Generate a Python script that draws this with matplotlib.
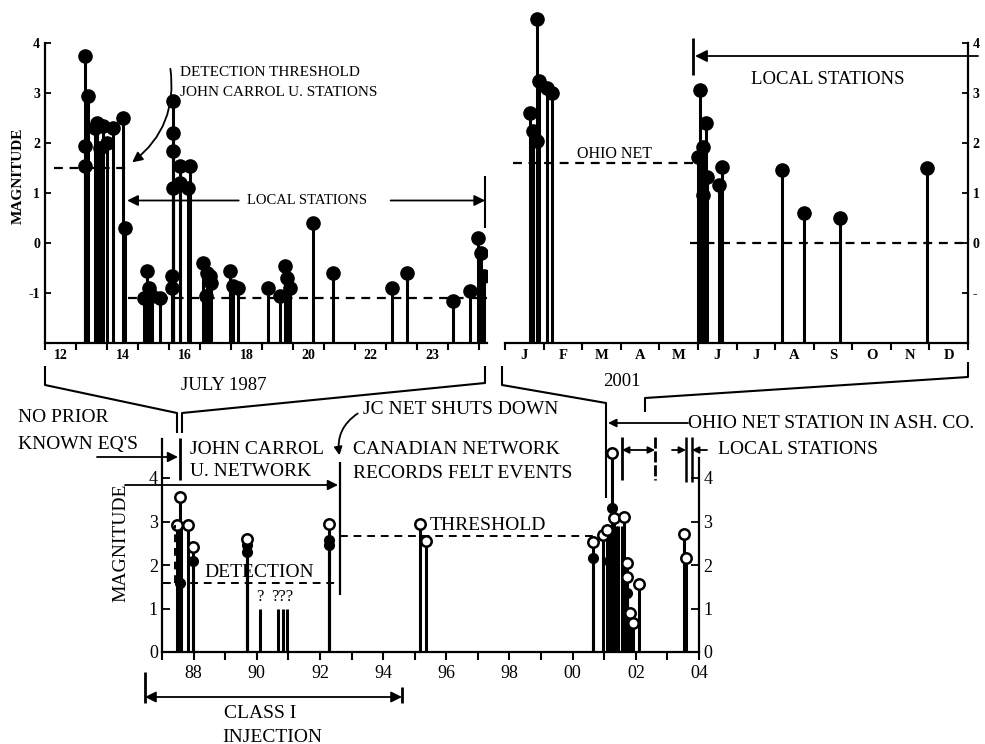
import matplotlib
matplotlib.use("Agg")
import matplotlib.pyplot as plt
from matplotlib.patches import FancyArrowPatch

plt.rcParams['font.family'] = ['Liberation Serif', 'DejaVu Serif']

# July 1987 sequence: day of month, magnitude
july_day = [13.29, 13.29, 13.29, 13.39, 13.6, 13.68, 13.77, 13.87, 14.0, 14.19, 14.52, 14.58,
            15.2, 15.3, 15.35, 15.45, 15.7,
            16.13, 16.13, 16.13, 16.13, 16.1, 16.1,
            16.35, 16.35, 16.62, 16.68,
            17.1, 17.2, 17.23, 17.32, 17.36,
            17.97, 18.06, 18.23,
            19.19, 19.58, 19.74, 19.8, 19.9,
            20.65, 21.29, 23.19, 23.68,
            25.16, 25.71, 25.97, 26.06, 26.16]
july_mag = [3.75, 1.95, 1.55, 2.95, 2.3, 2.4, 1.9, 2.35, 2.0, 2.3, 2.5, 0.3,
            -1.1, -0.55, -0.9, -1.05, -1.1,
            2.85, 2.2, 1.85, 1.1, -0.65, -0.9,
            1.55, 1.2, 1.1, 1.55,
            -0.4, -1.05, -0.6, -0.65, -0.8,
            -0.55, -0.85, -0.9,
            -0.9, -1.05, -0.45, -0.7, -0.9,
            0.4, -0.6, -0.9, -0.6,
            -1.15, -0.95, 0.1, -0.2, -0.65]
july_label_pos = [12.5, 14.5, 16.5, 18.5, 20.5, 22.5, 24.5]
july_labels = ['12', '14', '16', '18', '20', '22', '23']
jcu_threshold = 1.5
july_local_threshold = -1.1

# 2001 sequence: months from 1 January, magnitude
m2001 = [0.65, 0.73, 0.83, 0.83, 0.88, 1.09, 1.22,
         5.0, 5.05, 5.13, 5.13, 5.21, 5.23, 5.54, 5.62,
         7.18, 7.75, 8.68, 10.93]
mag2001 = [2.6, 2.25, 2.05, 4.48, 3.25, 3.1, 3.0,
           1.73, 3.07, 1.93, 0.97, 2.4, 1.33, 1.17, 1.53,
           1.47, 0.6, 0.5, 1.5]
month_labels = ['J', 'F', 'M', 'A', 'M', 'J', 'J', 'A', 'S', 'O', 'N', 'D']
ohio_threshold = 1.6
local_2001_threshold = 0.0

# 1987-2004 history
open_year = [1987.56, 1987.49, 1987.81, 1987.97, 1989.68, 1992.3, 1995.18, 1995.37,
             2000.63, 2000.97, 2001.1, 2001.23, 2001.32, 2001.64, 2001.73, 2001.73,
             2001.83, 2001.92, 2002.11, 2003.54, 2003.6]
open_mag = [3.56, 2.92, 2.92, 2.41, 2.6, 2.94, 2.94, 2.55,
            2.53, 2.69, 2.8, 4.57, 3.08, 3.1, 2.04, 1.73,
            0.9, 0.67, 1.56, 2.71, 2.16]
full_year = [1987.56, 1987.97, 1989.68, 1989.68, 1992.3, 1992.3, 2000.63, 2001.23, 2001.16, 2001.73]
full_mag = [1.59, 2.1, 2.45, 2.3, 2.57, 2.45, 2.16, 3.3, 2.1, 1.35]
bare_year = [1987.6, 2001.16, 2001.38, 2001.45, 2001.55]
bare_mag = [2.9, 2.7, 2.9, 2.9, 2.9]
unknown_year = [1990.09, 1990.66, 1990.82, 1990.97]
unknown_mag = [1.0, 1.0, 1.0, 1.0]
detection_mag = 1.59
felt_mag = 2.67
jc_shutdown = 1992.62
cn_end = 2000.63

fig = plt.figure(figsize=(9.85, 7.44), dpi=100)


def px_axes(l, t, r, b):
    return fig.add_axes([l / 985, 1 - b / 744, (r - l) / 985, (b - t) / 744])


dash = (0, (4, 3))

# ---- top left: July 1987
ax1 = px_axes(45, 8, 487, 343)
ax1.vlines(july_day, -2, july_mag, color='k', lw=2.2)
ax1.plot(july_day, july_mag, 'o', color='k', ms=9.5)
ax1.set_xlim(12, 26.26)
ax1.set_ylim(-2, 4.7)
ax1.spines['top'].set_visible(False)
ax1.spines['right'].set_visible(False)
ax1.spines['left'].set_bounds(-2, 4)
ax1.set_yticks([4, 3, 2, 1, 0, -1])
ax1.set_yticklabels(['4', '3', '2', '1', '0', '-1'], fontsize=10, fontweight='bold')
ax1.tick_params(axis='y', direction='in', length=4, width=1.3)
ax1.set_xticks(range(12, 27))
ax1.set_xticklabels([])
ax1.set_xticks(july_label_pos, minor=True)
ax1.set_xticklabels(july_labels, minor=True, fontsize=10, fontweight='bold')
ax1.tick_params(axis='x', which='major', direction='out', length=5, width=1.5)
ax1.tick_params(axis='x', which='minor', length=0, pad=4)
ax1.set_ylabel('MAGNITUDE', fontsize=11, fontweight='bold', labelpad=3)
ax1.hlines(jcu_threshold, 12.3, 14.6, colors='k', linestyles=dash, lw=1.6)
ax1.hlines(july_local_threshold, 14.68, 26.26, colors='k', linestyles=dash, lw=1.6)
ax1.text(20.45, 0.85, 'LOCAL STATIONS', ha='center', va='center', fontsize=10.5)
ax1.annotate('', xy=(14.65, 0.85), xytext=(18.25, 0.85),
             arrowprops=dict(arrowstyle='-|>', color='k', lw=1.3, mutation_scale=16, shrinkA=0, shrinkB=0))
ax1.annotate('', xy=(26.2, 0.85), xytext=(23.15, 0.85),
             arrowprops=dict(arrowstyle='-|>', color='k', lw=1.3, mutation_scale=16, shrinkA=0, shrinkB=0))
ax1.vlines(26.2, 0.3, 1.35, colors='k', lw=1.5)
for s in ax1.spines.values():
    s.set_linewidth(1.6)

# ---- top right: 2001
ax2 = px_axes(505, 8, 968, 343)
ax2.vlines(m2001, -2, mag2001, color='k', lw=2.2)
ax2.plot(m2001, mag2001, 'o', color='k', ms=9.5)
ax2.set_xlim(0, 12)
ax2.set_ylim(-2, 4.7)
ax2.spines['top'].set_visible(False)
ax2.spines['left'].set_visible(False)
ax2.spines['right'].set_bounds(-2, 4)
ax2.yaxis.tick_right()
ax2.set_yticks([4, 3, 2, 1, 0, -1])
ax2.set_yticklabels(['4', '3', '2', '1', '0', '-'], fontsize=10, fontweight='bold')
ax2.tick_params(axis='y', direction='in', length=4, width=1.3)
ax2.set_xticks(range(0, 13))
ax2.set_xticklabels([])
ax2.set_xticks([m + 0.5 for m in range(12)], minor=True)
ax2.set_xticklabels(month_labels, minor=True, fontsize=10.5, fontweight='bold')
ax2.tick_params(axis='x', which='major', direction='out', length=5, width=1.5)
ax2.tick_params(axis='x', which='minor', length=0, pad=4)
ax2.hlines(ohio_threshold, 0.2, 4.87, colors='k', linestyles=dash, lw=1.6)
ax2.hlines(local_2001_threshold, 4.8, 12, colors='k', linestyles=dash, lw=1.6)
ax2.text(2.85, 1.62, 'OHIO NET', ha='center', va='bottom', fontsize=11.5)
for s in ax2.spines.values():
    s.set_linewidth(1.6)

# ---- bottom: 1987-2004
ax3 = px_axes(162, 434.5, 699, 652)
ax3.vlines(open_year + full_year + bare_year, 0, open_mag + full_mag + bare_mag, color='k', lw=2.2)
ax3.vlines(unknown_year, 0, unknown_mag, color='k', lw=2.2)
ax3.plot(full_year, full_mag, 'o', color='k', ms=7)
ax3.plot(open_year, open_mag, 'o', mfc='white', mec='k', mew=1.8, ms=7.5)
ax3.text(unknown_year[0], 1.08, '?', ha='center', va='bottom', fontsize=12)
ax3.text(unknown_year[2], 1.08, '???', ha='center', va='bottom', fontsize=12)
ax3.set_xlim(1987, 2004)
ax3.set_ylim(0, 5.0)
ax3.spines['top'].set_visible(False)
ax3.spines['left'].set_bounds(0, 4.9)
ax3.spines['right'].set_bounds(0, 4.45)
ax3.set_yticks([0, 1, 2, 3, 4])
ax3.set_yticklabels(['0', '1', '2', '3', '4'], fontsize=13)
ax3.tick_params(axis='y', which='both', direction='in', length=6, width=1.3, left=True, right=True,
                labelleft=True, labelright=True, pad=3)
ax3.set_xticks(range(1987, 2005))
ax3.set_xticklabels([('%02d' % (y % 100)) if y % 2 == 0 else '' for y in range(1987, 2005)], fontsize=13)
ax3.tick_params(axis='x', direction='out', length=6, width=1.5)
ax3.set_ylabel('MAGNITUDE', fontsize=14, labelpad=14)
ax3.hlines(detection_mag, 1987.03, jc_shutdown, colors='k', linestyles=dash, lw=1.4)
ax3.vlines(1987.4, detection_mag, 2.92, colors='k', linestyles=dash, lw=1.4)
ax3.hlines(felt_mag, jc_shutdown, cn_end, colors='k', linestyles=dash, lw=1.4)
ax3.vlines(jc_shutdown, 1.3, 4.37, colors='k', lw=1.6)
ax3.text(1988.35, detection_mag + 0.05, 'DETECTION', ha='left', va='bottom', fontsize=14)
ax3.text(1995.47, felt_mag + 0.05, 'THRESHOLD', ha='left', va='bottom', fontsize=14)
for s in ax3.spines.values():
    s.set_linewidth(1.6)

# ---- overlay in pixel coordinates for brackets and notes
ax0 = fig.add_axes([0, 0, 1, 1], facecolor='none', zorder=5)
ax0.set_xlim(0, 985)
ax0.set_ylim(744, 0)
ax0.axis('off')


def line(xs, ys, lw=1.5, ls='-'):
    ax0.plot(xs, ys, color='k', lw=lw, ls=ls, solid_capstyle='butt')


def arrow(x1, y1, x2, y2, ms=15):
    ax0.annotate('', xy=(x2, y2), xytext=(x1, y1),
                 arrowprops=dict(arrowstyle='-|>', color='k', lw=1.3, mutation_scale=ms, shrinkA=0, shrinkB=0))


# brackets from the zoomed panels
line([45, 45, 177, 177], [366, 385, 413, 433])
line([485, 485, 182, 182], [366, 383, 413, 433])
line([502, 502, 606, 606], [366, 385, 403, 498])
line([968, 968, 645, 645], [362, 377, 398, 412])
ax0.text(224, 385, 'JULY 1987', ha='center', va='center', fontsize=13.5)
ax0.text(622, 382, '2001', ha='center', va='center', fontsize=13.5)

# top-left note
ax0.text(180, 72, 'DETECTION THRESHOLD', ha='left', va='center', fontsize=11)
ax0.text(180, 92, 'JOHN CARROL U. STATIONS', ha='left', va='center', fontsize=11)
ax0.add_patch(FancyArrowPatch((170, 66), (130, 164), connectionstyle='arc3,rad=-0.3',
                              arrowstyle='-|>', mutation_scale=15, color='k', lw=1.3))

# top-right local stations
arrow(978, 56, 695, 56, ms=18)
line([693, 693], [38, 75], lw=2)
ax0.text(828, 80, 'LOCAL STATIONS', ha='center', va='center', fontsize=13.5)

# bottom notes
ax0.text(18, 418, 'NO PRIOR', ha='left', va='center', fontsize=14)
ax0.text(18, 444, "KNOWN EQ'S", ha='left', va='center', fontsize=14)
arrow(97, 457, 178, 457)
line([180, 180], [438, 480], lw=2)
ax0.text(190, 449, 'JOHN CARROL', ha='left', va='center', fontsize=14)
ax0.text(190, 472, 'U. NETWORK', ha='left', va='center', fontsize=14)
arrow(125, 485, 338, 485)
ax0.text(363, 409, 'JC NET SHUTS DOWN', ha='left', va='center', fontsize=14)
ax0.add_patch(FancyArrowPatch((360, 412), (340, 458), connectionstyle='arc3,rad=0.35',
                              arrowstyle='-|>', mutation_scale=12, color='k', lw=1.3))
ax0.text(353, 450, 'CANADIAN NETWORK', ha='left', va='center', fontsize=14)
ax0.text(353, 473, 'RECORDS FELT EVENTS', ha='left', va='center', fontsize=14)
ax0.text(688, 423, 'OHIO NET STATION IN ASH. CO.', ha='left', va='center', fontsize=14)
arrow(688, 423, 608, 423, ms=12)
ax0.text(718, 450, 'LOCAL STATIONS', ha='left', va='center', fontsize=14)
line([622, 622], [437, 480], lw=2)
line([655, 655], [437, 480], lw=2, ls=(0, (4, 1)))
ax0.annotate('', xy=(622, 450), xytext=(655, 450),
             arrowprops=dict(arrowstyle='<|-|>', color='k', lw=1.3, mutation_scale=10, shrinkA=0, shrinkB=0))
line([686, 686], [437, 482], lw=1.8)
line([692, 692], [437, 482], lw=1.8)
arrow(672, 450, 686, 450, ms=10)
arrow(707, 450, 692, 450, ms=10)

# class I injection
line([145, 145], [672, 703], lw=2)
line([402, 402], [687, 703], lw=2)
ax0.annotate('', xy=(145, 697), xytext=(402, 697),
             arrowprops=dict(arrowstyle='<|-|>', color='k', lw=1.3, mutation_scale=16, shrinkA=0, shrinkB=0))
ax0.text(260, 713, 'CLASS I', ha='center', va='center', fontsize=14)
ax0.text(272, 737, 'INJECTION', ha='center', va='center', fontsize=14)

fig.savefig('out.png', dpi=100)
